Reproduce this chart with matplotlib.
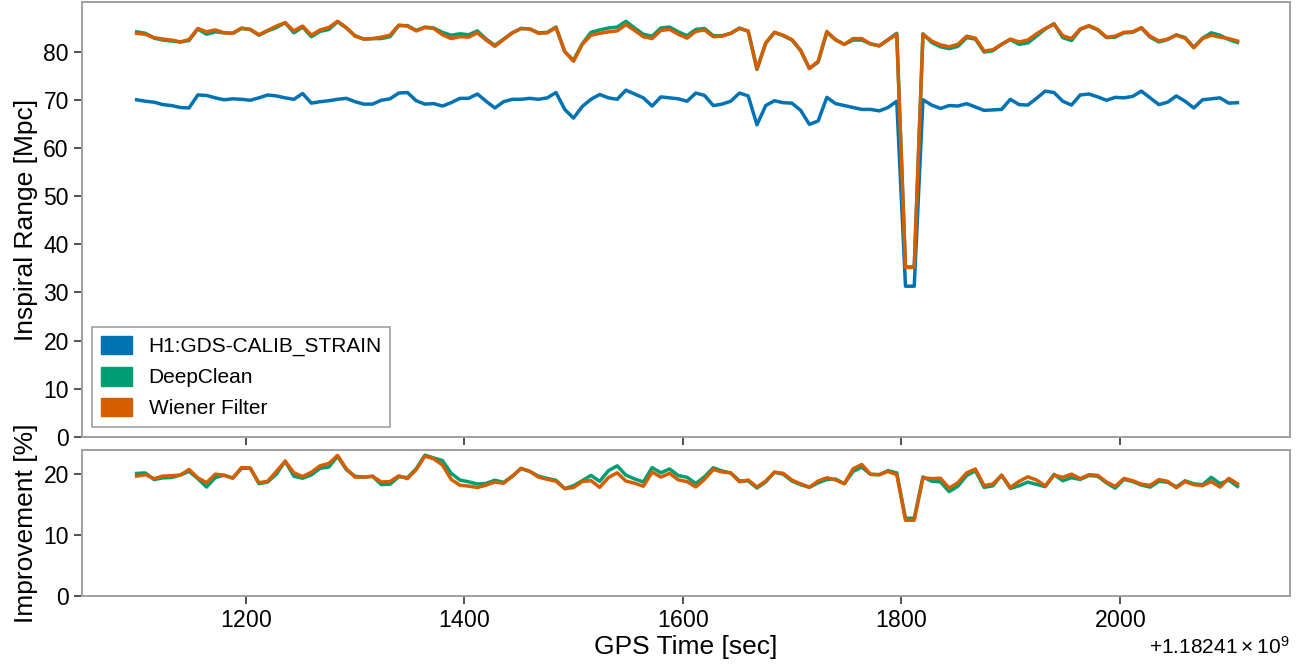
import numpy as np
import matplotlib.pyplot as plt
from matplotlib.patches import Patch

plt.rcParams['font.family'] = ['Liberation Sans', 'DejaVu Sans']

# GPS times, 8 s stride, offset from 1182410000
gps0 = 1182410000
t = gps0 + np.arange(1100, 2109, 8)

# inspiral range [Mpc]
raw = [70.0, 69.7, 69.5, 69.0, 68.8, 68.4, 68.3, 71.0, 70.9, 70.4,
       70.0, 70.2, 70.1, 69.9, 70.4, 71.0, 70.8, 70.4, 70.1, 71.3,
       69.3, 69.6, 69.8, 70.1, 70.3, 69.6, 69.1, 69.1, 69.9, 70.2,
       71.4, 71.5, 69.8, 69.1, 69.2, 68.7, 69.4, 70.3, 70.3, 71.2,
       69.7, 68.3, 69.6, 70.1, 70.1, 70.3, 70.1, 70.4, 71.5, 68.0,
       66.2, 68.6, 70.1, 71.1, 70.4, 70.1, 72.0, 71.2, 70.4, 68.7,
       70.6, 70.4, 70.2, 69.7, 71.4, 70.9, 68.8, 69.1, 69.7, 71.4,
       70.8, 64.8, 68.8, 69.8, 69.4, 69.3, 67.8, 64.9, 65.6, 70.5,
       69.2, 68.8, 68.4, 68.0, 68.0, 67.7, 68.4, 69.7, 31.3, 31.3,
       70.0, 68.9, 68.2, 68.8, 68.7, 69.2, 68.5, 67.8, 67.9, 68.0,
       70.1, 69.0, 68.9, 70.3, 71.8, 71.5, 69.7, 68.9, 71.0, 71.2,
       70.6, 69.9, 70.5, 70.4, 70.7, 71.8, 70.4, 69.0, 69.5, 70.8,
       69.7, 68.3, 70.0, 70.2, 70.4, 69.3, 69.4]

deepclean = [84.1, 83.8, 82.8, 82.4, 82.2, 82.0, 82.3, 84.7, 83.6, 84.1,
             83.9, 83.8, 84.8, 84.6, 83.4, 84.3, 85.0, 86.0, 83.9, 85.1,
             83.1, 84.2, 84.6, 86.2, 84.9, 83.3, 82.6, 82.7, 82.7, 83.1,
             85.4, 85.4, 84.4, 85.1, 84.9, 84.0, 83.4, 83.7, 83.5, 84.3,
             82.6, 81.3, 82.6, 83.9, 84.8, 84.7, 83.9, 84.0, 85.1, 80.0,
             78.2, 81.6, 84.0, 84.5, 84.9, 85.1, 86.3, 84.9, 83.6, 83.2,
             84.9, 85.1, 84.1, 83.3, 84.6, 84.8, 83.3, 83.3, 83.8, 84.9,
             84.2, 76.3, 81.7, 84.0, 83.3, 82.4, 80.2, 76.5, 77.8, 84.0,
             82.5, 81.5, 82.4, 82.4, 81.6, 81.2, 82.5, 83.8, 35.3, 35.3,
             83.7, 81.9, 81.0, 80.6, 81.1, 82.9, 82.6, 79.9, 80.2, 81.5,
             82.5, 81.5, 81.8, 83.2, 84.7, 85.8, 82.9, 82.3, 84.6, 85.3,
             84.5, 82.9, 83.0, 83.9, 84.0, 84.9, 83.0, 82.0, 82.5, 83.5,
             82.9, 80.9, 82.8, 83.9, 83.4, 82.5, 81.9]

wiener = [83.8, 83.6, 82.9, 82.6, 82.4, 82.0, 82.5, 84.8, 84.1, 84.5,
          83.9, 83.8, 84.9, 84.6, 83.5, 84.4, 85.3, 86.0, 84.3, 85.3,
          83.4, 84.5, 85.0, 86.3, 85.0, 83.2, 82.6, 82.7, 83.0, 83.4,
          85.5, 85.3, 84.3, 85.0, 84.8, 83.5, 82.7, 83.1, 83.0, 83.9,
          82.4, 81.1, 82.5, 83.9, 84.8, 84.7, 83.8, 83.9, 85.0, 80.0,
          78.0, 81.5, 83.4, 83.8, 84.1, 84.3, 85.6, 84.4, 83.1, 82.7,
          84.4, 84.6, 83.6, 82.8, 84.2, 84.5, 83.1, 83.2, 83.8, 84.8,
          84.3, 76.4, 81.8, 84.0, 83.4, 82.5, 80.3, 76.5, 78.0, 84.2,
          82.4, 81.5, 82.7, 82.7, 81.6, 81.2, 82.4, 83.6, 35.2, 35.2,
          83.6, 82.2, 81.4, 81.0, 81.5, 83.2, 82.8, 80.1, 80.4, 81.5,
          82.6, 82.0, 82.4, 83.7, 84.8, 85.7, 83.3, 82.7, 84.7, 85.4,
          84.6, 83.0, 83.2, 84.0, 84.1, 85.0, 83.2, 82.2, 82.6, 83.4,
          82.8, 80.8, 82.7, 83.4, 83.0, 82.7, 82.2]

labels = ['H1:GDS-CALIB_STRAIN', 'DeepClean', 'Wiener Filter']
colors = ['#0173b2', '#029e73', '#d55e00']

raw = np.array(raw)
deepclean = np.array(deepclean)
wiener = np.array(wiener)
imp_dc = (deepclean - raw) / raw * 100
imp_wf = (wiener - raw) / raw * 100

fig = plt.figure(figsize=(13.04, 6.64), dpi=100)
ax1 = fig.add_axes([0.0629, 0.3419, 0.9263, 0.6551])
ax2 = fig.add_axes([0.0629, 0.1024, 0.9263, 0.2199], sharex=ax1)

lw = 2.5
ax1.plot(t, raw, color=colors[0], lw=lw)
ax1.plot(t, deepclean, color=colors[1], lw=lw)
ax1.plot(t, wiener, color=colors[2], lw=lw)
ax2.plot(t, imp_dc, color=colors[1], lw=lw)
ax2.plot(t, imp_wf, color=colors[2], lw=lw)

ax1.set_xlim(gps0 + 1050, gps0 + 2156)
ax1.set_ylim(0, 90.3)
ax2.set_ylim(0, 24)
ax1.set_yticks(range(0, 81, 10))
ax2.set_yticks([0, 10, 20])
ax1.set_xticks(gps0 + np.arange(1200, 2001, 200))
ax2.ticklabel_format(axis='x', useMathText=True)

for ax in (ax1, ax2):
    for s in ax.spines.values():
        s.set_color('#a0a0a0')
        s.set_linewidth(1.4)
    ax.tick_params(labelsize=16.5, length=6, width=1.2, color='#333333')
ax1.tick_params(axis='x', labelbottom=False)
ax2.xaxis.get_offset_text().set_fontsize(15)

ax1.set_ylabel('Inspiral Range [Mpc]', fontsize=19)
ax2.set_ylabel('Improvement [%]', fontsize=19)
ax2.set_xlabel('GPS Time [sec]', fontsize=19, labelpad=2)

handles = [Patch(color=c) for c in colors]
leg = ax1.legend(handles, labels, loc='lower left', fontsize=15,
                 fancybox=False, framealpha=1, edgecolor='#a0a0a0',
                 handlelength=1.5, handleheight=1.0)
leg.get_frame().set_linewidth(1.2)

fig.savefig('out.png', dpi=100)
